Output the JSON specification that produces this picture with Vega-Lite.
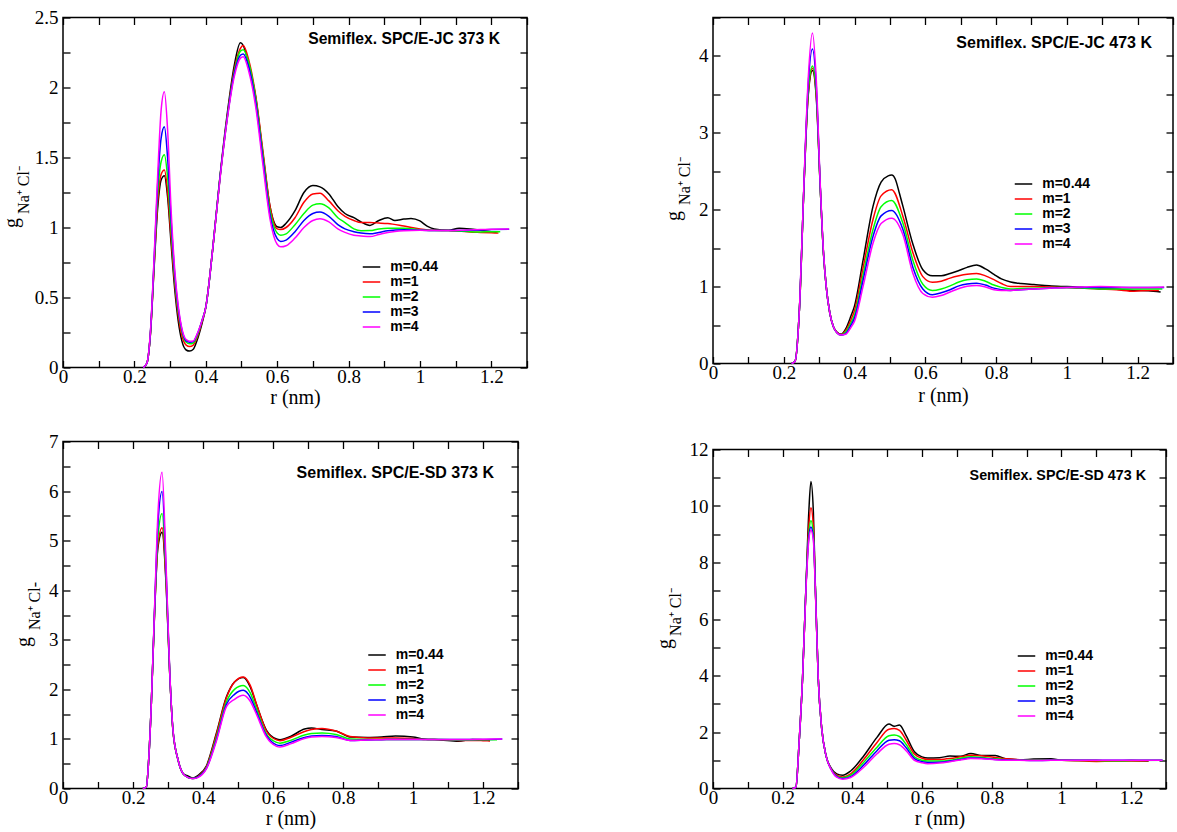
{
  "$schema": "https://vega.github.io/schema/vega-lite/v6.json",
  "background": "white",
  "padding": {"left": 0, "top": 7.5, "right": 0, "bottom": 0},
  "spacing": 124,
  "resolve": {"scale": {"x": "independent", "y": "independent"}, "legend": {"color": "independent"}},
  "hconcat": [
    {
      "vconcat": [
        {
          "width": 464, "height": 350,
          "data": {"name": "jc373"},
          "title": {"text": "Semiflex. SPC/E-JC 373 K", "anchor": "end", "frame": "group", "offset": 0, "baseline": "middle", "dx": -27, "dy": 46.5, "fontSize": 15.7},
          "layer": [
            {"mark": {"type": "line", "interpolate": "monotone", "strokeWidth": 1.5},
             "encoding": {
               "x": {"field": "r", "type": "quantitative", "scale": {"domain": [0, 1.3], "nice": false, "zero": false},
                     "axis": {"values": [0,0.1,0.2,0.3,0.4,0.5,0.6,0.7,0.8,0.9,1,1.1,1.2,1.3], "labelExpr": "round(datum.value*10)%2==0 ? format(datum.value,'~g') : ''", "title": "r (nm)", "titleY": 36, "titleBaseline": "alphabetic"}},
               "y": {"field": "g", "type": "quantitative", "scale": {"domain": [0, 2.5], "nice": false, "zero": false},
                     "axis": {"values": [0,0.25,0.5,0.75,1,1.25,1.5,1.75,2,2.25,2.5], "labelExpr": "round(datum.value*4)%2==0 ? format(datum.value,'~g') : ''", "title": "g", "titleX": -41.5, "titleY": 205, "titleAngle": 270, "titleBaseline": "bottom", "titleAlign": "center"}},
               "color": {"field": "m", "type": "nominal", "scale": {"domain": ["m=0.44","m=1","m=2","m=3","m=4"], "range": ["#000000","#ff0000","#00ff00","#0000ff","#ff00ff"]},
                         "legend": {"orient": "none", "legendX": 300.5, "legendY": 241.5, "title": null}}
             }},
            {"mark": {"type": "point", "opacity": 0, "size": 1},
             "encoding": {
               "x": {"field": "r", "type": "quantitative", "scale": {"domain": [0, 1.3], "nice": false, "zero": false}, "axis": {"orient": "top", "values": [0,0.1,0.2,0.3,0.4,0.5,0.6,0.7,0.8,0.9,1,1.1,1.2,1.3], "labels": false, "title": null}},
               "y": {"field": "g", "type": "quantitative", "scale": {"domain": [0, 2.5], "nice": false, "zero": false}, "axis": {"orient": "right", "values": [0,0.25,0.5,0.75,1,1.25,1.5,1.75,2,2.25,2.5], "labels": false, "title": null}}
             }},
            {"mark": {"type": "point", "opacity": 0, "size": 1},
             "encoding": {
               "x": {"field": "r", "type": "quantitative", "scale": {"domain": [0, 1.3], "nice": false, "zero": false}, "axis": null},
               "y": {"field": "g", "type": "quantitative", "scale": {"domain": [0, 2.5], "nice": false, "zero": false}, "axis": {"orient": "left", "ticks": false, "labels": false, "title": "Na⁺ Cl⁻", "titleFontSize": 16, "titleX": -31.5, "titleY": 172, "titleAngle": 270, "titleBaseline": "bottom", "titleAlign": "center"}}
             }}
          ],
          "resolve": {"axis": {"x": "independent", "y": "independent"}}
        },
        {
          "width": 455, "height": 347,
          "data": {"name": "sd373"},
          "title": {"text": "Semiflex. SPC/E-SD 373 K", "anchor": "end", "frame": "group", "offset": 0, "baseline": "middle", "dx": -24, "dy": 56.5, "fontSize": 16},
          "layer": [
            {"mark": {"type": "line", "interpolate": "monotone", "strokeWidth": 1.5},
             "encoding": {
               "x": {"field": "r", "type": "quantitative", "scale": {"domain": [0, 1.3], "nice": false, "zero": false},
                     "axis": {"values": [0,0.1,0.2,0.3,0.4,0.5,0.6,0.7,0.8,0.9,1,1.1,1.2,1.3], "labelExpr": "round(datum.value*10)%2==0 ? format(datum.value,'~g') : ''", "title": "r (nm)", "titleY": 36, "titleBaseline": "alphabetic"}},
               "y": {"field": "g", "type": "quantitative", "scale": {"domain": [0, 7], "nice": false, "zero": false},
                     "axis": {"values": [0,0.5,1,1.5,2,2.5,3,3.5,4,4.5,5,5.5,6,6.5,7], "labelExpr": "round(datum.value*2)%2==0 ? format(datum.value,'~g') : ''", "title": "g", "titleX": -30, "titleY": 200, "titleAngle": 270, "titleBaseline": "bottom", "titleAlign": "center"}},
               "color": {"field": "m", "type": "nominal", "scale": {"domain": ["m=0.44","m=1","m=2","m=3","m=4"], "range": ["#000000","#ff0000","#00ff00","#0000ff","#ff00ff"]},
                         "legend": {"orient": "none", "legendX": 306, "legendY": 205.5, "title": null}}
             }},
            {"mark": {"type": "point", "opacity": 0, "size": 1},
             "encoding": {
               "x": {"field": "r", "type": "quantitative", "scale": {"domain": [0, 1.3], "nice": false, "zero": false}, "axis": {"orient": "top", "values": [0,0.1,0.2,0.3,0.4,0.5,0.6,0.7,0.8,0.9,1,1.1,1.2,1.3], "labels": false, "title": null}},
               "y": {"field": "g", "type": "quantitative", "scale": {"domain": [0, 7], "nice": false, "zero": false}, "axis": {"orient": "right", "values": [0,0.5,1,1.5,2,2.5,3,3.5,4,4.5,5,5.5,6,6.5,7], "labels": false, "title": null}}
             }},
            {"mark": {"type": "point", "opacity": 0, "size": 1},
             "encoding": {
               "x": {"field": "r", "type": "quantitative", "scale": {"domain": [0, 1.3], "nice": false, "zero": false}, "axis": null},
               "y": {"field": "g", "type": "quantitative", "scale": {"domain": [0, 7], "nice": false, "zero": false}, "axis": {"orient": "left", "ticks": false, "labels": false, "title": "Na⁺ Cl-", "titleFontSize": 16, "titleX": -20.5, "titleY": 164, "titleAngle": 270, "titleBaseline": "bottom", "titleAlign": "center"}}
             }}
          ],
          "resolve": {"axis": {"x": "independent", "y": "independent"}}
        }
      ],
      "spacing": 74,
      "bounds": "flush",
      "resolve": {"scale": {"x": "independent", "y": "independent"}, "legend": {"color": "independent"}}
    },
    {
      "vconcat": [
        {
          "width": 460, "height": 346,
          "data": {"name": "jc473"},
          "title": {"text": "Semiflex. SPC/E-JC 473 K", "anchor": "end", "frame": "group", "offset": 0, "baseline": "middle", "dx": -21, "dy": 50, "fontSize": 16},
          "layer": [
            {"mark": {"type": "line", "interpolate": "monotone", "strokeWidth": 1.5},
             "encoding": {
               "x": {"field": "r", "type": "quantitative", "scale": {"domain": [0, 1.3], "nice": false, "zero": false},
                     "axis": {"values": [0,0.1,0.2,0.3,0.4,0.5,0.6,0.7,0.8,0.9,1,1.1,1.2,1.3], "labelExpr": "round(datum.value*10)%2==0 ? format(datum.value,'~g') : ''", "title": "r (nm)", "titleY": 38, "titleBaseline": "alphabetic"}},
               "y": {"field": "g", "type": "quantitative", "scale": {"domain": [0, 4.5], "nice": false, "zero": false},
                     "axis": {"values": [0,0.5,1,1.5,2,2.5,3,3.5,4,4.5], "labelExpr": "round(datum.value*2)%2==0 ? format(datum.value,'~g') : ''", "title": "g", "titleX": -30, "titleY": 198, "titleAngle": 270, "titleBaseline": "bottom", "titleAlign": "center"}},
               "color": {"field": "m", "type": "nominal", "scale": {"domain": ["m=0.44","m=1","m=2","m=3","m=4"], "range": ["#000000","#ff0000","#00ff00","#0000ff","#ff00ff"]},
                         "legend": {"orient": "none", "legendX": 302.5, "legendY": 158.5, "title": null}}
             }},
            {"mark": {"type": "point", "opacity": 0, "size": 1},
             "encoding": {
               "x": {"field": "r", "type": "quantitative", "scale": {"domain": [0, 1.3], "nice": false, "zero": false}, "axis": {"orient": "top", "values": [0,0.1,0.2,0.3,0.4,0.5,0.6,0.7,0.8,0.9,1,1.1,1.2,1.3], "labels": false, "title": null}},
               "y": {"field": "g", "type": "quantitative", "scale": {"domain": [0, 4.5], "nice": false, "zero": false}, "axis": {"orient": "right", "values": [0,0.5,1,1.5,2,2.5,3,3.5,4,4.5], "labels": false, "title": null}}
             }},
            {"mark": {"type": "point", "opacity": 0, "size": 1},
             "encoding": {
               "x": {"field": "r", "type": "quantitative", "scale": {"domain": [0, 1.3], "nice": false, "zero": false}, "axis": null},
               "y": {"field": "g", "type": "quantitative", "scale": {"domain": [0, 4.5], "nice": false, "zero": false}, "axis": {"orient": "left", "ticks": false, "labels": false, "title": "Na⁺ Cl⁻", "titleFontSize": 16, "titleX": -20.5, "titleY": 163, "titleAngle": 270, "titleBaseline": "bottom", "titleAlign": "center"}}
             }}
          ],
          "resolve": {"axis": {"x": "independent", "y": "independent"}}
        },
        {
          "width": 453, "height": 339,
          "data": {"name": "sd473"},
          "title": {"text": "Semiflex. SPC/E-SD 473 K", "anchor": "end", "frame": "group", "offset": 0, "baseline": "middle", "dx": -20, "dy": 49.5, "fontSize": 14.3},
          "layer": [
            {"mark": {"type": "line", "interpolate": "monotone", "strokeWidth": 1.5},
             "encoding": {
               "x": {"field": "r", "type": "quantitative", "scale": {"domain": [0, 1.3], "nice": false, "zero": false},
                     "axis": {"values": [0,0.1,0.2,0.3,0.4,0.5,0.6,0.7,0.8,0.9,1,1.1,1.2,1.3], "labelExpr": "round(datum.value*10)%2==0 ? format(datum.value,'~g') : ''", "title": "r (nm)", "titleY": 36, "titleBaseline": "alphabetic"}},
               "y": {"field": "g", "type": "quantitative", "scale": {"domain": [0, 12], "nice": false, "zero": false},
                     "axis": {"values": [0,1,2,3,4,5,6,7,8,9,10,11,12], "labelExpr": "round(datum.value)%2==0 ? format(datum.value,'~g') : ''", "title": "g", "titleX": -39, "titleY": 194, "titleAngle": 270, "titleBaseline": "bottom", "titleAlign": "center"}},
               "color": {"field": "m", "type": "nominal", "scale": {"domain": ["m=0.44","m=1","m=2","m=3","m=4"], "range": ["#000000","#ff0000","#00ff00","#0000ff","#ff00ff"]},
                         "legend": {"orient": "none", "legendX": 305.5, "legendY": 198.5, "title": null}}
             }},
            {"mark": {"type": "point", "opacity": 0, "size": 1},
             "encoding": {
               "x": {"field": "r", "type": "quantitative", "scale": {"domain": [0, 1.3], "nice": false, "zero": false}, "axis": {"orient": "top", "values": [0,0.1,0.2,0.3,0.4,0.5,0.6,0.7,0.8,0.9,1,1.1,1.2,1.3], "labels": false, "title": null}},
               "y": {"field": "g", "type": "quantitative", "scale": {"domain": [0, 12], "nice": false, "zero": false}, "axis": {"orient": "right", "values": [0,1,2,3,4,5,6,7,8,9,10,11,12], "labels": false, "title": null}}
             }},
            {"mark": {"type": "point", "opacity": 0, "size": 1},
             "encoding": {
               "x": {"field": "r", "type": "quantitative", "scale": {"domain": [0, 1.3], "nice": false, "zero": false}, "axis": null},
               "y": {"field": "g", "type": "quantitative", "scale": {"domain": [0, 12], "nice": false, "zero": false}, "axis": {"orient": "left", "ticks": false, "labels": false, "title": "Na⁺ Cl⁻", "titleFontSize": 16, "titleX": -30, "titleY": 162, "titleAngle": 270, "titleBaseline": "bottom", "titleAlign": "center"}}
             }}
          ],
          "resolve": {"axis": {"x": "independent", "y": "independent"}}
        }
      ],
      "spacing": 86,
      "bounds": "flush",
      "resolve": {"scale": {"x": "independent", "y": "independent"}, "legend": {"color": "independent"}}
    }
  ],
  "datasets": {
    "jc373": [
      {"m":"m=0.44","r":0.225,"g":0},{"m":"m=0.44","r":0.235,"g":0.03},{"m":"m=0.44","r":0.245,"g":0.24},{"m":"m=0.44","r":0.255,"g":0.7},{"m":"m=0.44","r":0.265,"g":1.13},{"m":"m=0.44","r":0.275,"g":1.34},{"m":"m=0.44","r":0.284,"g":1.37},{"m":"m=0.44","r":0.293,"g":1.22},{"m":"m=0.44","r":0.303,"g":0.88},{"m":"m=0.44","r":0.313,"g":0.56},{"m":"m=0.44","r":0.323,"g":0.33},{"m":"m=0.44","r":0.333,"g":0.19},{"m":"m=0.44","r":0.345,"g":0.125},{"m":"m=0.44","r":0.355,"g":0.117},{"m":"m=0.44","r":0.365,"g":0.13},{"m":"m=0.44","r":0.375,"g":0.19},{"m":"m=0.44","r":0.39,"g":0.32},{"m":"m=0.44","r":0.4,"g":0.43},{"m":"m=0.44","r":0.42,"g":0.86},{"m":"m=0.44","r":0.44,"g":1.37},{"m":"m=0.44","r":0.46,"g":1.81},{"m":"m=0.44","r":0.48,"g":2.16},{"m":"m=0.44","r":0.497,"g":2.32},{"m":"m=0.44","r":0.505,"g":2.3},{"m":"m=0.44","r":0.52,"g":2.17},{"m":"m=0.44","r":0.54,"g":1.93},{"m":"m=0.44","r":0.56,"g":1.53},{"m":"m=0.44","r":0.58,"g":1.15},{"m":"m=0.44","r":0.6,"g":1.005},{"m":"m=0.44","r":0.61,"g":1.0},{"m":"m=0.44","r":0.625,"g":1.03},{"m":"m=0.44","r":0.65,"g":1.12},{"m":"m=0.44","r":0.675,"g":1.25},{"m":"m=0.44","r":0.7,"g":1.3},{"m":"m=0.44","r":0.72,"g":1.29},{"m":"m=0.44","r":0.745,"g":1.24},{"m":"m=0.44","r":0.77,"g":1.15},{"m":"m=0.44","r":0.79,"g":1.1},{"m":"m=0.44","r":0.815,"g":1.07},{"m":"m=0.44","r":0.835,"g":1.04},{"m":"m=0.44","r":0.86,"g":1.015},{"m":"m=0.44","r":0.885,"g":1.05},{"m":"m=0.44","r":0.91,"g":1.07},{"m":"m=0.44","r":0.93,"g":1.05},{"m":"m=0.44","r":0.955,"g":1.06},{"m":"m=0.44","r":0.975,"g":1.065},{"m":"m=0.44","r":1.0,"g":1.047},{"m":"m=0.44","r":1.02,"g":1.01},{"m":"m=0.44","r":1.04,"g":0.99},{"m":"m=0.44","r":1.08,"g":0.98},{"m":"m=0.44","r":1.11,"g":0.995},{"m":"m=0.44","r":1.14,"g":0.99},{"m":"m=0.44","r":1.17,"g":0.98},{"m":"m=0.44","r":1.2,"g":0.97},{"m":"m=0.44","r":1.215,"g":0.965},
      {"m":"m=1","r":0.225,"g":0},{"m":"m=1","r":0.235,"g":0.03},{"m":"m=1","r":0.245,"g":0.24},{"m":"m=1","r":0.255,"g":0.71},{"m":"m=1","r":0.265,"g":1.17},{"m":"m=1","r":0.275,"g":1.38},{"m":"m=1","r":0.284,"g":1.41},{"m":"m=1","r":0.293,"g":1.26},{"m":"m=1","r":0.303,"g":0.92},{"m":"m=1","r":0.313,"g":0.6},{"m":"m=1","r":0.323,"g":0.37},{"m":"m=1","r":0.333,"g":0.23},{"m":"m=1","r":0.345,"g":0.16},{"m":"m=1","r":0.355,"g":0.15},{"m":"m=1","r":0.365,"g":0.16},{"m":"m=1","r":0.375,"g":0.21},{"m":"m=1","r":0.39,"g":0.33},{"m":"m=1","r":0.4,"g":0.43},{"m":"m=1","r":0.42,"g":0.86},{"m":"m=1","r":0.44,"g":1.36},{"m":"m=1","r":0.46,"g":1.79},{"m":"m=1","r":0.48,"g":2.13},{"m":"m=1","r":0.497,"g":2.28},{"m":"m=1","r":0.505,"g":2.3},{"m":"m=1","r":0.52,"g":2.2},{"m":"m=1","r":0.54,"g":1.94},{"m":"m=1","r":0.56,"g":1.55},{"m":"m=1","r":0.58,"g":1.15},{"m":"m=1","r":0.6,"g":0.99},{"m":"m=1","r":0.61,"g":0.985},{"m":"m=1","r":0.625,"g":1.0},{"m":"m=1","r":0.65,"g":1.07},{"m":"m=1","r":0.675,"g":1.18},{"m":"m=1","r":0.7,"g":1.24},{"m":"m=1","r":0.72,"g":1.245},{"m":"m=1","r":0.745,"g":1.19},{"m":"m=1","r":0.77,"g":1.12},{"m":"m=1","r":0.79,"g":1.08},{"m":"m=1","r":0.815,"g":1.05},{"m":"m=1","r":0.835,"g":1.035},{"m":"m=1","r":0.86,"g":1.035},{"m":"m=1","r":0.885,"g":1.032},{"m":"m=1","r":0.91,"g":1.028},{"m":"m=1","r":0.955,"g":1.01},{"m":"m=1","r":1.0,"g":0.99},{"m":"m=1","r":1.04,"g":0.98},{"m":"m=1","r":1.08,"g":0.978},{"m":"m=1","r":1.11,"g":0.975},{"m":"m=1","r":1.14,"g":0.968},{"m":"m=1","r":1.17,"g":0.965},{"m":"m=1","r":1.2,"g":0.962},{"m":"m=1","r":1.22,"g":0.96},
      {"m":"m=2","r":0.225,"g":0},{"m":"m=2","r":0.235,"g":0.03},{"m":"m=2","r":0.245,"g":0.25},{"m":"m=2","r":0.255,"g":0.73},{"m":"m=2","r":0.265,"g":1.23},{"m":"m=2","r":0.275,"g":1.47},{"m":"m=2","r":0.284,"g":1.52},{"m":"m=2","r":0.293,"g":1.36},{"m":"m=2","r":0.303,"g":0.98},{"m":"m=2","r":0.313,"g":0.64},{"m":"m=2","r":0.323,"g":0.4},{"m":"m=2","r":0.333,"g":0.26},{"m":"m=2","r":0.345,"g":0.18},{"m":"m=2","r":0.355,"g":0.169},{"m":"m=2","r":0.365,"g":0.175},{"m":"m=2","r":0.375,"g":0.22},{"m":"m=2","r":0.39,"g":0.34},{"m":"m=2","r":0.4,"g":0.43},{"m":"m=2","r":0.42,"g":0.86},{"m":"m=2","r":0.44,"g":1.36},{"m":"m=2","r":0.46,"g":1.78},{"m":"m=2","r":0.48,"g":2.11},{"m":"m=2","r":0.497,"g":2.26},{"m":"m=2","r":0.505,"g":2.27},{"m":"m=2","r":0.52,"g":2.18},{"m":"m=2","r":0.54,"g":1.92},{"m":"m=2","r":0.56,"g":1.52},{"m":"m=2","r":0.58,"g":1.12},{"m":"m=2","r":0.6,"g":0.96},{"m":"m=2","r":0.61,"g":0.945},{"m":"m=2","r":0.625,"g":0.955},{"m":"m=2","r":0.65,"g":1.02},{"m":"m=2","r":0.675,"g":1.1},{"m":"m=2","r":0.7,"g":1.16},{"m":"m=2","r":0.72,"g":1.17},{"m":"m=2","r":0.745,"g":1.14},{"m":"m=2","r":0.77,"g":1.07},{"m":"m=2","r":0.79,"g":1.035},{"m":"m=2","r":0.815,"g":0.99},{"m":"m=2","r":0.835,"g":0.977},{"m":"m=2","r":0.86,"g":0.978},{"m":"m=2","r":0.885,"g":0.99},{"m":"m=2","r":0.91,"g":0.995},{"m":"m=2","r":0.955,"g":0.995},{"m":"m=2","r":1.0,"g":0.984},{"m":"m=2","r":1.04,"g":0.978},{"m":"m=2","r":1.08,"g":0.978},{"m":"m=2","r":1.11,"g":0.975},{"m":"m=2","r":1.14,"g":0.97},{"m":"m=2","r":1.17,"g":0.968},{"m":"m=2","r":1.2,"g":0.97},{"m":"m=2","r":1.225,"g":0.97},
      {"m":"m=3","r":0.225,"g":0},{"m":"m=3","r":0.235,"g":0.03},{"m":"m=3","r":0.245,"g":0.25},{"m":"m=3","r":0.255,"g":0.75},{"m":"m=3","r":0.265,"g":1.3},{"m":"m=3","r":0.275,"g":1.64},{"m":"m=3","r":0.284,"g":1.72},{"m":"m=3","r":0.293,"g":1.5},{"m":"m=3","r":0.303,"g":1.05},{"m":"m=3","r":0.313,"g":0.67},{"m":"m=3","r":0.323,"g":0.42},{"m":"m=3","r":0.333,"g":0.27},{"m":"m=3","r":0.345,"g":0.19},{"m":"m=3","r":0.355,"g":0.181},{"m":"m=3","r":0.365,"g":0.185},{"m":"m=3","r":0.375,"g":0.23},{"m":"m=3","r":0.39,"g":0.34},{"m":"m=3","r":0.4,"g":0.43},{"m":"m=3","r":0.42,"g":0.86},{"m":"m=3","r":0.44,"g":1.36},{"m":"m=3","r":0.46,"g":1.78},{"m":"m=3","r":0.48,"g":2.1},{"m":"m=3","r":0.497,"g":2.23},{"m":"m=3","r":0.505,"g":2.24},{"m":"m=3","r":0.52,"g":2.15},{"m":"m=3","r":0.54,"g":1.89},{"m":"m=3","r":0.56,"g":1.49},{"m":"m=3","r":0.58,"g":1.09},{"m":"m=3","r":0.6,"g":0.92},{"m":"m=3","r":0.61,"g":0.9},{"m":"m=3","r":0.625,"g":0.91},{"m":"m=3","r":0.65,"g":0.97},{"m":"m=3","r":0.675,"g":1.05},{"m":"m=3","r":0.7,"g":1.1},{"m":"m=3","r":0.72,"g":1.11},{"m":"m=3","r":0.745,"g":1.08},{"m":"m=3","r":0.77,"g":1.02},{"m":"m=3","r":0.79,"g":0.99},{"m":"m=3","r":0.815,"g":0.97},{"m":"m=3","r":0.835,"g":0.96},{"m":"m=3","r":0.86,"g":0.955},{"m":"m=3","r":0.885,"g":0.965},{"m":"m=3","r":0.91,"g":0.977},{"m":"m=3","r":0.955,"g":0.984},{"m":"m=3","r":1.0,"g":0.98},{"m":"m=3","r":1.04,"g":0.978},{"m":"m=3","r":1.08,"g":0.978},{"m":"m=3","r":1.11,"g":0.978},{"m":"m=3","r":1.14,"g":0.98},{"m":"m=3","r":1.17,"g":0.983},{"m":"m=3","r":1.2,"g":0.985},{"m":"m=3","r":1.25,"g":0.988},
      {"m":"m=4","r":0.225,"g":0},{"m":"m=4","r":0.235,"g":0.03},{"m":"m=4","r":0.245,"g":0.26},{"m":"m=4","r":0.255,"g":0.77},{"m":"m=4","r":0.265,"g":1.36},{"m":"m=4","r":0.275,"g":1.84},{"m":"m=4","r":0.284,"g":1.97},{"m":"m=4","r":0.293,"g":1.7},{"m":"m=4","r":0.303,"g":1.12},{"m":"m=4","r":0.313,"g":0.7},{"m":"m=4","r":0.323,"g":0.44},{"m":"m=4","r":0.333,"g":0.28},{"m":"m=4","r":0.345,"g":0.2},{"m":"m=4","r":0.355,"g":0.188},{"m":"m=4","r":0.365,"g":0.19},{"m":"m=4","r":0.375,"g":0.235},{"m":"m=4","r":0.39,"g":0.34},{"m":"m=4","r":0.4,"g":0.43},{"m":"m=4","r":0.42,"g":0.86},{"m":"m=4","r":0.44,"g":1.35},{"m":"m=4","r":0.46,"g":1.77},{"m":"m=4","r":0.48,"g":2.08},{"m":"m=4","r":0.497,"g":2.21},{"m":"m=4","r":0.505,"g":2.22},{"m":"m=4","r":0.52,"g":2.12},{"m":"m=4","r":0.54,"g":1.86},{"m":"m=4","r":0.56,"g":1.45},{"m":"m=4","r":0.58,"g":1.06},{"m":"m=4","r":0.6,"g":0.88},{"m":"m=4","r":0.61,"g":0.862},{"m":"m=4","r":0.625,"g":0.87},{"m":"m=4","r":0.65,"g":0.925},{"m":"m=4","r":0.675,"g":1.0},{"m":"m=4","r":0.7,"g":1.05},{"m":"m=4","r":0.72,"g":1.063},{"m":"m=4","r":0.745,"g":1.04},{"m":"m=4","r":0.77,"g":0.99},{"m":"m=4","r":0.79,"g":0.965},{"m":"m=4","r":0.815,"g":0.945},{"m":"m=4","r":0.835,"g":0.94},{"m":"m=4","r":0.86,"g":0.935},{"m":"m=4","r":0.885,"g":0.95},{"m":"m=4","r":0.91,"g":0.965},{"m":"m=4","r":0.955,"g":0.977},{"m":"m=4","r":1.0,"g":0.98},{"m":"m=4","r":1.04,"g":0.978},{"m":"m=4","r":1.08,"g":0.978},{"m":"m=4","r":1.11,"g":0.98},{"m":"m=4","r":1.14,"g":0.982},{"m":"m=4","r":1.17,"g":0.985},{"m":"m=4","r":1.2,"g":0.987},{"m":"m=4","r":1.25,"g":0.99}
    ],
    "jc473": [
      {"m":"m=0.44","r":0.222,"g":0},{"m":"m=0.44","r":0.232,"g":0.03},{"m":"m=0.44","r":0.245,"g":0.78},{"m":"m=0.44","r":0.257,"g":2.3},{"m":"m=0.44","r":0.269,"g":3.48},{"m":"m=0.44","r":0.281,"g":3.81},{"m":"m=0.44","r":0.292,"g":3.45},{"m":"m=0.44","r":0.303,"g":2.3},{"m":"m=0.44","r":0.312,"g":1.45},{"m":"m=0.44","r":0.32,"g":1.0},{"m":"m=0.44","r":0.33,"g":0.66},{"m":"m=0.44","r":0.34,"g":0.48},{"m":"m=0.44","r":0.35,"g":0.41},{"m":"m=0.44","r":0.362,"g":0.38},{"m":"m=0.44","r":0.375,"g":0.45},{"m":"m=0.44","r":0.39,"g":0.62},{"m":"m=0.44","r":0.4,"g":0.75},{"m":"m=0.44","r":0.424,"g":1.34},{"m":"m=0.44","r":0.452,"g":2.04},{"m":"m=0.44","r":0.475,"g":2.36},{"m":"m=0.44","r":0.495,"g":2.44},{"m":"m=0.44","r":0.505,"g":2.45},{"m":"m=0.44","r":0.515,"g":2.4},{"m":"m=0.44","r":0.527,"g":2.21},{"m":"m=0.44","r":0.537,"g":2.04},{"m":"m=0.44","r":0.565,"g":1.55},{"m":"m=0.44","r":0.593,"g":1.22},{"m":"m=0.44","r":0.62,"g":1.14},{"m":"m=0.44","r":0.645,"g":1.14},{"m":"m=0.44","r":0.67,"g":1.17},{"m":"m=0.44","r":0.695,"g":1.21},{"m":"m=0.44","r":0.718,"g":1.25},{"m":"m=0.44","r":0.745,"g":1.28},{"m":"m=0.44","r":0.77,"g":1.23},{"m":"m=0.44","r":0.794,"g":1.16},{"m":"m=0.44","r":0.815,"g":1.1},{"m":"m=0.44","r":0.841,"g":1.06},{"m":"m=0.44","r":0.87,"g":1.04},{"m":"m=0.44","r":0.907,"g":1.026},{"m":"m=0.44","r":0.95,"g":1.01},{"m":"m=0.44","r":1.0,"g":1.0},{"m":"m=0.44","r":1.05,"g":0.99},{"m":"m=0.44","r":1.095,"g":0.97},{"m":"m=0.44","r":1.14,"g":0.965},{"m":"m=0.44","r":1.19,"g":0.95},{"m":"m=0.44","r":1.23,"g":0.945},{"m":"m=0.44","r":1.265,"g":0.93},
      {"m":"m=1","r":0.222,"g":0},{"m":"m=1","r":0.232,"g":0.03},{"m":"m=1","r":0.245,"g":0.78},{"m":"m=1","r":0.257,"g":2.3},{"m":"m=1","r":0.269,"g":3.5},{"m":"m=1","r":0.281,"g":3.84},{"m":"m=1","r":0.292,"g":3.48},{"m":"m=1","r":0.303,"g":2.3},{"m":"m=1","r":0.312,"g":1.45},{"m":"m=1","r":0.32,"g":1.0},{"m":"m=1","r":0.33,"g":0.66},{"m":"m=1","r":0.34,"g":0.48},{"m":"m=1","r":0.35,"g":0.405},{"m":"m=1","r":0.362,"g":0.375},{"m":"m=1","r":0.375,"g":0.43},{"m":"m=1","r":0.39,"g":0.57},{"m":"m=1","r":0.4,"g":0.69},{"m":"m=1","r":0.424,"g":1.24},{"m":"m=1","r":0.452,"g":1.87},{"m":"m=1","r":0.475,"g":2.18},{"m":"m=1","r":0.505,"g":2.26},{"m":"m=1","r":0.537,"g":1.91},{"m":"m=1","r":0.565,"g":1.44},{"m":"m=1","r":0.593,"g":1.13},{"m":"m=1","r":0.62,"g":1.056},{"m":"m=1","r":0.645,"g":1.07},{"m":"m=1","r":0.67,"g":1.11},{"m":"m=1","r":0.695,"g":1.14},{"m":"m=1","r":0.718,"g":1.16},{"m":"m=1","r":0.745,"g":1.17},{"m":"m=1","r":0.77,"g":1.14},{"m":"m=1","r":0.794,"g":1.09},{"m":"m=1","r":0.815,"g":1.04},{"m":"m=1","r":0.841,"g":1.0},{"m":"m=1","r":0.87,"g":1.0},{"m":"m=1","r":0.907,"g":1.0},{"m":"m=1","r":0.95,"g":0.995},{"m":"m=1","r":1.0,"g":0.99},{"m":"m=1","r":1.05,"g":0.98},{"m":"m=1","r":1.095,"g":0.97},{"m":"m=1","r":1.14,"g":0.96},{"m":"m=1","r":1.19,"g":0.94},{"m":"m=1","r":1.23,"g":0.95},{"m":"m=1","r":1.26,"g":0.95},
      {"m":"m=2","r":0.222,"g":0},{"m":"m=2","r":0.232,"g":0.03},{"m":"m=2","r":0.245,"g":0.78},{"m":"m=2","r":0.257,"g":2.3},{"m":"m=2","r":0.269,"g":3.54},{"m":"m=2","r":0.281,"g":3.87},{"m":"m=2","r":0.292,"g":3.52},{"m":"m=2","r":0.303,"g":2.3},{"m":"m=2","r":0.312,"g":1.45},{"m":"m=2","r":0.32,"g":1.0},{"m":"m=2","r":0.33,"g":0.66},{"m":"m=2","r":0.34,"g":0.48},{"m":"m=2","r":0.35,"g":0.4},{"m":"m=2","r":0.362,"g":0.372},{"m":"m=2","r":0.375,"g":0.41},{"m":"m=2","r":0.39,"g":0.53},{"m":"m=2","r":0.4,"g":0.63},{"m":"m=2","r":0.424,"g":1.15},{"m":"m=2","r":0.452,"g":1.74},{"m":"m=2","r":0.475,"g":2.04},{"m":"m=2","r":0.505,"g":2.12},{"m":"m=2","r":0.537,"g":1.82},{"m":"m=2","r":0.565,"g":1.34},{"m":"m=2","r":0.593,"g":1.03},{"m":"m=2","r":0.62,"g":0.95},{"m":"m=2","r":0.645,"g":0.97},{"m":"m=2","r":0.67,"g":1.01},{"m":"m=2","r":0.695,"g":1.06},{"m":"m=2","r":0.718,"g":1.09},{"m":"m=2","r":0.745,"g":1.1},{"m":"m=2","r":0.77,"g":1.07},{"m":"m=2","r":0.794,"g":1.02},{"m":"m=2","r":0.815,"g":0.99},{"m":"m=2","r":0.841,"g":0.97},{"m":"m=2","r":0.87,"g":0.975},{"m":"m=2","r":0.907,"g":0.98},{"m":"m=2","r":0.95,"g":0.985},{"m":"m=2","r":1.0,"g":0.99},{"m":"m=2","r":1.05,"g":0.98},{"m":"m=2","r":1.095,"g":0.97},{"m":"m=2","r":1.14,"g":0.97},{"m":"m=2","r":1.19,"g":0.97},{"m":"m=2","r":1.23,"g":0.97},{"m":"m=2","r":1.27,"g":0.97},
      {"m":"m=3","r":0.222,"g":0},{"m":"m=3","r":0.232,"g":0.03},{"m":"m=3","r":0.245,"g":0.78},{"m":"m=3","r":0.257,"g":2.32},{"m":"m=3","r":0.269,"g":3.62},{"m":"m=3","r":0.281,"g":4.09},{"m":"m=3","r":0.292,"g":3.6},{"m":"m=3","r":0.303,"g":2.32},{"m":"m=3","r":0.312,"g":1.46},{"m":"m=3","r":0.32,"g":1.0},{"m":"m=3","r":0.33,"g":0.66},{"m":"m=3","r":0.34,"g":0.48},{"m":"m=3","r":0.35,"g":0.4},{"m":"m=3","r":0.362,"g":0.37},{"m":"m=3","r":0.375,"g":0.39},{"m":"m=3","r":0.39,"g":0.5},{"m":"m=3","r":0.4,"g":0.59},{"m":"m=3","r":0.424,"g":1.08},{"m":"m=3","r":0.452,"g":1.65},{"m":"m=3","r":0.475,"g":1.92},{"m":"m=3","r":0.505,"g":1.99},{"m":"m=3","r":0.537,"g":1.74},{"m":"m=3","r":0.565,"g":1.25},{"m":"m=3","r":0.593,"g":0.97},{"m":"m=3","r":0.62,"g":0.895},{"m":"m=3","r":0.645,"g":0.92},{"m":"m=3","r":0.67,"g":0.96},{"m":"m=3","r":0.695,"g":1.01},{"m":"m=3","r":0.718,"g":1.035},{"m":"m=3","r":0.745,"g":1.045},{"m":"m=3","r":0.77,"g":1.02},{"m":"m=3","r":0.794,"g":0.98},{"m":"m=3","r":0.815,"g":0.96},{"m":"m=3","r":0.841,"g":0.95},{"m":"m=3","r":0.87,"g":0.96},{"m":"m=3","r":0.907,"g":0.97},{"m":"m=3","r":0.95,"g":0.98},{"m":"m=3","r":1.0,"g":0.99},{"m":"m=3","r":1.05,"g":0.99},{"m":"m=3","r":1.095,"g":0.99},{"m":"m=3","r":1.14,"g":0.99},{"m":"m=3","r":1.19,"g":0.99},{"m":"m=3","r":1.23,"g":0.99},{"m":"m=3","r":1.275,"g":0.99},
      {"m":"m=4","r":0.222,"g":0},{"m":"m=4","r":0.232,"g":0.03},{"m":"m=4","r":0.245,"g":0.78},{"m":"m=4","r":0.257,"g":2.34},{"m":"m=4","r":0.269,"g":3.7},{"m":"m=4","r":0.281,"g":4.3},{"m":"m=4","r":0.292,"g":3.68},{"m":"m=4","r":0.303,"g":2.34},{"m":"m=4","r":0.312,"g":1.47},{"m":"m=4","r":0.32,"g":1.0},{"m":"m=4","r":0.33,"g":0.66},{"m":"m=4","r":0.34,"g":0.48},{"m":"m=4","r":0.35,"g":0.4},{"m":"m=4","r":0.362,"g":0.37},{"m":"m=4","r":0.375,"g":0.38},{"m":"m=4","r":0.39,"g":0.47},{"m":"m=4","r":0.4,"g":0.55},{"m":"m=4","r":0.424,"g":1.0},{"m":"m=4","r":0.452,"g":1.56},{"m":"m=4","r":0.475,"g":1.82},{"m":"m=4","r":0.505,"g":1.89},{"m":"m=4","r":0.537,"g":1.67},{"m":"m=4","r":0.565,"g":1.17},{"m":"m=4","r":0.593,"g":0.91},{"m":"m=4","r":0.62,"g":0.862},{"m":"m=4","r":0.645,"g":0.885},{"m":"m=4","r":0.67,"g":0.93},{"m":"m=4","r":0.695,"g":0.975},{"m":"m=4","r":0.718,"g":1.005},{"m":"m=4","r":0.745,"g":1.015},{"m":"m=4","r":0.77,"g":0.995},{"m":"m=4","r":0.794,"g":0.96},{"m":"m=4","r":0.815,"g":0.95},{"m":"m=4","r":0.841,"g":0.95},{"m":"m=4","r":0.87,"g":0.96},{"m":"m=4","r":0.907,"g":0.97},{"m":"m=4","r":0.95,"g":0.98},{"m":"m=4","r":1.0,"g":0.99},{"m":"m=4","r":1.05,"g":0.995},{"m":"m=4","r":1.095,"g":1.0},{"m":"m=4","r":1.14,"g":0.995},{"m":"m=4","r":1.19,"g":0.99},{"m":"m=4","r":1.23,"g":0.99},{"m":"m=4","r":1.275,"g":0.995}
    ],
    "sd373": [
      {"m":"m=0.44","r":0.228,"g":0},{"m":"m=0.44","r":0.238,"g":0.03},{"m":"m=0.44","r":0.245,"g":0.6},{"m":"m=0.44","r":0.252,"g":1.65},{"m":"m=0.44","r":0.262,"g":3.6},{"m":"m=0.44","r":0.271,"g":4.85},{"m":"m=0.44","r":0.283,"g":5.17},{"m":"m=0.44","r":0.295,"g":4.05},{"m":"m=0.44","r":0.305,"g":2.3},{"m":"m=0.44","r":0.314,"g":1.18},{"m":"m=0.44","r":0.329,"g":0.57},{"m":"m=0.44","r":0.343,"g":0.3},{"m":"m=0.44","r":0.358,"g":0.25},{"m":"m=0.44","r":0.371,"g":0.21},{"m":"m=0.44","r":0.385,"g":0.26},{"m":"m=0.44","r":0.41,"g":0.46},{"m":"m=0.44","r":0.438,"g":1.11},{"m":"m=0.44","r":0.467,"g":1.85},{"m":"m=0.44","r":0.49,"g":2.15},{"m":"m=0.44","r":0.515,"g":2.24},{"m":"m=0.44","r":0.535,"g":2.05},{"m":"m=0.44","r":0.552,"g":1.71},{"m":"m=0.44","r":0.581,"g":1.18},{"m":"m=0.44","r":0.61,"g":1.0},{"m":"m=0.44","r":0.62,"g":0.985},{"m":"m=0.44","r":0.65,"g":1.05},{"m":"m=0.44","r":0.69,"g":1.2},{"m":"m=0.44","r":0.71,"g":1.22},{"m":"m=0.44","r":0.74,"g":1.19},{"m":"m=0.44","r":0.78,"g":1.16},{"m":"m=0.44","r":0.82,"g":1.04},{"m":"m=0.44","r":0.87,"g":1.03},{"m":"m=0.44","r":0.91,"g":1.04},{"m":"m=0.44","r":0.95,"g":1.06},{"m":"m=0.44","r":1.0,"g":1.04},{"m":"m=0.44","r":1.03,"g":1.0},{"m":"m=0.44","r":1.08,"g":0.98},{"m":"m=0.44","r":1.13,"g":0.955},{"m":"m=0.44","r":1.17,"g":0.99},{"m":"m=0.44","r":1.2,"g":0.985},{"m":"m=0.44","r":1.22,"g":0.97},
      {"m":"m=1","r":0.228,"g":0},{"m":"m=1","r":0.238,"g":0.03},{"m":"m=1","r":0.245,"g":0.6},{"m":"m=1","r":0.252,"g":1.65},{"m":"m=1","r":0.262,"g":3.62},{"m":"m=1","r":0.271,"g":4.9},{"m":"m=1","r":0.283,"g":5.26},{"m":"m=1","r":0.295,"g":4.1},{"m":"m=1","r":0.305,"g":2.3},{"m":"m=1","r":0.314,"g":1.18},{"m":"m=1","r":0.329,"g":0.57},{"m":"m=1","r":0.343,"g":0.3},{"m":"m=1","r":0.358,"g":0.22},{"m":"m=1","r":0.371,"g":0.2},{"m":"m=1","r":0.385,"g":0.24},{"m":"m=1","r":0.41,"g":0.44},{"m":"m=1","r":0.438,"g":1.08},{"m":"m=1","r":0.467,"g":1.83},{"m":"m=1","r":0.49,"g":2.15},{"m":"m=1","r":0.515,"g":2.25},{"m":"m=1","r":0.535,"g":2.08},{"m":"m=1","r":0.552,"g":1.72},{"m":"m=1","r":0.581,"g":1.16},{"m":"m=1","r":0.61,"g":0.98},{"m":"m=1","r":0.62,"g":0.965},{"m":"m=1","r":0.65,"g":1.03},{"m":"m=1","r":0.69,"g":1.15},{"m":"m=1","r":0.71,"g":1.19},{"m":"m=1","r":0.74,"g":1.21},{"m":"m=1","r":0.78,"g":1.16},{"m":"m=1","r":0.82,"g":1.05},{"m":"m=1","r":0.87,"g":1.02},{"m":"m=1","r":0.91,"g":1.02},{"m":"m=1","r":0.95,"g":1.02},{"m":"m=1","r":1.0,"g":1.01},{"m":"m=1","r":1.03,"g":0.99},{"m":"m=1","r":1.08,"g":0.985},{"m":"m=1","r":1.13,"g":0.97},{"m":"m=1","r":1.17,"g":0.97},{"m":"m=1","r":1.2,"g":0.965},{"m":"m=1","r":1.22,"g":0.96},
      {"m":"m=2","r":0.228,"g":0},{"m":"m=2","r":0.238,"g":0.03},{"m":"m=2","r":0.245,"g":0.6},{"m":"m=2","r":0.252,"g":1.65},{"m":"m=2","r":0.262,"g":3.64},{"m":"m=2","r":0.271,"g":5.05},{"m":"m=2","r":0.283,"g":5.55},{"m":"m=2","r":0.295,"g":4.2},{"m":"m=2","r":0.305,"g":2.32},{"m":"m=2","r":0.314,"g":1.19},{"m":"m=2","r":0.329,"g":0.57},{"m":"m=2","r":0.343,"g":0.3},{"m":"m=2","r":0.358,"g":0.22},{"m":"m=2","r":0.371,"g":0.2},{"m":"m=2","r":0.385,"g":0.23},{"m":"m=2","r":0.41,"g":0.42},{"m":"m=2","r":0.438,"g":1.02},{"m":"m=2","r":0.467,"g":1.75},{"m":"m=2","r":0.49,"g":2.0},{"m":"m=2","r":0.515,"g":2.08},{"m":"m=2","r":0.535,"g":1.93},{"m":"m=2","r":0.552,"g":1.62},{"m":"m=2","r":0.581,"g":1.1},{"m":"m=2","r":0.61,"g":0.93},{"m":"m=2","r":0.62,"g":0.915},{"m":"m=2","r":0.65,"g":0.97},{"m":"m=2","r":0.69,"g":1.08},{"m":"m=2","r":0.71,"g":1.11},{"m":"m=2","r":0.74,"g":1.12},{"m":"m=2","r":0.78,"g":1.09},{"m":"m=2","r":0.82,"g":1.0},{"m":"m=2","r":0.87,"g":0.99},{"m":"m=2","r":0.91,"g":0.99},{"m":"m=2","r":0.95,"g":0.99},{"m":"m=2","r":1.0,"g":0.99},{"m":"m=2","r":1.03,"g":0.99},{"m":"m=2","r":1.08,"g":0.99},{"m":"m=2","r":1.13,"g":0.98},{"m":"m=2","r":1.17,"g":0.98},{"m":"m=2","r":1.2,"g":0.985},{"m":"m=2","r":1.24,"g":0.985},
      {"m":"m=3","r":0.228,"g":0},{"m":"m=3","r":0.238,"g":0.03},{"m":"m=3","r":0.245,"g":0.6},{"m":"m=3","r":0.252,"g":1.65},{"m":"m=3","r":0.262,"g":3.68},{"m":"m=3","r":0.271,"g":5.3},{"m":"m=3","r":0.283,"g":5.99},{"m":"m=3","r":0.295,"g":4.3},{"m":"m=3","r":0.305,"g":2.33},{"m":"m=3","r":0.314,"g":1.2},{"m":"m=3","r":0.329,"g":0.57},{"m":"m=3","r":0.343,"g":0.3},{"m":"m=3","r":0.358,"g":0.22},{"m":"m=3","r":0.371,"g":0.2},{"m":"m=3","r":0.385,"g":0.23},{"m":"m=3","r":0.41,"g":0.41},{"m":"m=3","r":0.438,"g":0.98},{"m":"m=3","r":0.467,"g":1.7},{"m":"m=3","r":0.49,"g":1.9},{"m":"m=3","r":0.515,"g":1.98},{"m":"m=3","r":0.535,"g":1.84},{"m":"m=3","r":0.552,"g":1.56},{"m":"m=3","r":0.581,"g":1.07},{"m":"m=3","r":0.61,"g":0.88},{"m":"m=3","r":0.62,"g":0.865},{"m":"m=3","r":0.65,"g":0.93},{"m":"m=3","r":0.69,"g":1.03},{"m":"m=3","r":0.71,"g":1.06},{"m":"m=3","r":0.74,"g":1.07},{"m":"m=3","r":0.78,"g":1.05},{"m":"m=3","r":0.82,"g":0.97},{"m":"m=3","r":0.87,"g":0.98},{"m":"m=3","r":0.91,"g":0.985},{"m":"m=3","r":0.95,"g":0.99},{"m":"m=3","r":1.0,"g":0.99},{"m":"m=3","r":1.03,"g":0.99},{"m":"m=3","r":1.08,"g":0.99},{"m":"m=3","r":1.13,"g":0.99},{"m":"m=3","r":1.17,"g":0.99},{"m":"m=3","r":1.2,"g":0.99},{"m":"m=3","r":1.255,"g":1.0},
      {"m":"m=4","r":0.228,"g":0},{"m":"m=4","r":0.238,"g":0.03},{"m":"m=4","r":0.245,"g":0.6},{"m":"m=4","r":0.252,"g":1.65},{"m":"m=4","r":0.262,"g":3.72},{"m":"m=4","r":0.271,"g":5.5},{"m":"m=4","r":0.283,"g":6.38},{"m":"m=4","r":0.295,"g":4.4},{"m":"m=4","r":0.305,"g":2.35},{"m":"m=4","r":0.314,"g":1.2},{"m":"m=4","r":0.329,"g":0.57},{"m":"m=4","r":0.343,"g":0.3},{"m":"m=4","r":0.358,"g":0.22},{"m":"m=4","r":0.371,"g":0.2},{"m":"m=4","r":0.385,"g":0.22},{"m":"m=4","r":0.41,"g":0.4},{"m":"m=4","r":0.438,"g":0.95},{"m":"m=4","r":0.467,"g":1.65},{"m":"m=4","r":0.49,"g":1.8},{"m":"m=4","r":0.515,"g":1.88},{"m":"m=4","r":0.535,"g":1.76},{"m":"m=4","r":0.552,"g":1.51},{"m":"m=4","r":0.581,"g":1.04},{"m":"m=4","r":0.61,"g":0.85},{"m":"m=4","r":0.62,"g":0.835},{"m":"m=4","r":0.65,"g":0.9},{"m":"m=4","r":0.69,"g":1.01},{"m":"m=4","r":0.71,"g":1.04},{"m":"m=4","r":0.74,"g":1.05},{"m":"m=4","r":0.78,"g":1.03},{"m":"m=4","r":0.82,"g":0.97},{"m":"m=4","r":0.87,"g":0.98},{"m":"m=4","r":0.91,"g":0.985},{"m":"m=4","r":0.95,"g":0.99},{"m":"m=4","r":1.0,"g":0.99},{"m":"m=4","r":1.03,"g":0.99},{"m":"m=4","r":1.08,"g":0.99},{"m":"m=4","r":1.13,"g":0.99},{"m":"m=4","r":1.17,"g":0.99},{"m":"m=4","r":1.2,"g":0.995},{"m":"m=4","r":1.255,"g":1.0}
    ],
    "sd473": [
      {"m":"m=0.44","r":0.228,"g":0},{"m":"m=0.44","r":0.238,"g":0.05},{"m":"m=0.44","r":0.247,"g":1.6},{"m":"m=0.44","r":0.257,"g":3.9},{"m":"m=0.44","r":0.267,"g":7.2},{"m":"m=0.44","r":0.275,"g":9.8},{"m":"m=0.44","r":0.281,"g":10.87},{"m":"m=0.44","r":0.288,"g":9.8},{"m":"m=0.44","r":0.293,"g":7.5},{"m":"m=0.44","r":0.302,"g":3.9},{"m":"m=0.44","r":0.312,"g":2.12},{"m":"m=0.44","r":0.324,"g":1.18},{"m":"m=0.44","r":0.339,"g":0.72},{"m":"m=0.44","r":0.355,"g":0.52},{"m":"m=0.44","r":0.372,"g":0.47},{"m":"m=0.44","r":0.395,"g":0.62},{"m":"m=0.44","r":0.434,"g":1.18},{"m":"m=0.44","r":0.47,"g":1.8},{"m":"m=0.44","r":0.505,"g":2.28},{"m":"m=0.44","r":0.52,"g":2.2},{"m":"m=0.44","r":0.535,"g":2.25},{"m":"m=0.44","r":0.555,"g":1.85},{"m":"m=0.44","r":0.578,"g":1.3},{"m":"m=0.44","r":0.6,"g":1.12},{"m":"m=0.44","r":0.616,"g":1.08},{"m":"m=0.44","r":0.65,"g":1.09},{"m":"m=0.44","r":0.68,"g":1.15},{"m":"m=0.44","r":0.71,"g":1.14},{"m":"m=0.44","r":0.74,"g":1.24},{"m":"m=0.44","r":0.77,"g":1.17},{"m":"m=0.44","r":0.81,"g":1.17},{"m":"m=0.44","r":0.84,"g":1.05},{"m":"m=0.44","r":0.88,"g":1.02},{"m":"m=0.44","r":0.92,"g":1.04},{"m":"m=0.44","r":0.97,"g":1.05},{"m":"m=0.44","r":1.0,"g":1.0},{"m":"m=0.44","r":1.1,"g":0.99},{"m":"m=0.44","r":1.15,"g":0.98},{"m":"m=0.44","r":1.2,"g":0.99},{"m":"m=0.44","r":1.25,"g":0.97},
      {"m":"m=1","r":0.228,"g":0},{"m":"m=1","r":0.238,"g":0.05},{"m":"m=1","r":0.247,"g":1.6},{"m":"m=1","r":0.257,"g":3.9},{"m":"m=1","r":0.267,"g":7.2},{"m":"m=1","r":0.275,"g":9.3},{"m":"m=1","r":0.281,"g":9.94},{"m":"m=1","r":0.288,"g":9.3},{"m":"m=1","r":0.293,"g":7.4},{"m":"m=1","r":0.302,"g":3.9},{"m":"m=1","r":0.312,"g":2.12},{"m":"m=1","r":0.324,"g":1.18},{"m":"m=1","r":0.339,"g":0.7},{"m":"m=1","r":0.355,"g":0.47},{"m":"m=1","r":0.372,"g":0.41},{"m":"m=1","r":0.395,"g":0.52},{"m":"m=1","r":0.434,"g":1.05},{"m":"m=1","r":0.47,"g":1.62},{"m":"m=1","r":0.505,"g":2.1},{"m":"m=1","r":0.52,"g":2.12},{"m":"m=1","r":0.535,"g":2.06},{"m":"m=1","r":0.555,"g":1.7},{"m":"m=1","r":0.578,"g":1.22},{"m":"m=1","r":0.6,"g":1.07},{"m":"m=1","r":0.616,"g":1.03},{"m":"m=1","r":0.65,"g":1.03},{"m":"m=1","r":0.68,"g":1.06},{"m":"m=1","r":0.71,"g":1.12},{"m":"m=1","r":0.74,"g":1.18},{"m":"m=1","r":0.77,"g":1.16},{"m":"m=1","r":0.81,"g":1.1},{"m":"m=1","r":0.84,"g":1.05},{"m":"m=1","r":0.88,"g":1.02},{"m":"m=1","r":0.92,"g":1.0},{"m":"m=1","r":0.97,"g":1.0},{"m":"m=1","r":1.0,"g":1.0},{"m":"m=1","r":1.1,"g":0.96},{"m":"m=1","r":1.15,"g":0.97},{"m":"m=1","r":1.2,"g":0.97},{"m":"m=1","r":1.25,"g":0.98},
      {"m":"m=2","r":0.228,"g":0},{"m":"m=2","r":0.238,"g":0.05},{"m":"m=2","r":0.247,"g":1.6},{"m":"m=2","r":0.257,"g":3.9},{"m":"m=2","r":0.267,"g":7.2},{"m":"m=2","r":0.275,"g":9.0},{"m":"m=2","r":0.281,"g":9.49},{"m":"m=2","r":0.288,"g":9.0},{"m":"m=2","r":0.293,"g":7.4},{"m":"m=2","r":0.302,"g":3.9},{"m":"m=2","r":0.312,"g":2.12},{"m":"m=2","r":0.324,"g":1.18},{"m":"m=2","r":0.339,"g":0.69},{"m":"m=2","r":0.355,"g":0.44},{"m":"m=2","r":0.372,"g":0.38},{"m":"m=2","r":0.395,"g":0.47},{"m":"m=2","r":0.434,"g":0.95},{"m":"m=2","r":0.47,"g":1.45},{"m":"m=2","r":0.505,"g":1.87},{"m":"m=2","r":0.52,"g":1.89},{"m":"m=2","r":0.535,"g":1.84},{"m":"m=2","r":0.555,"g":1.55},{"m":"m=2","r":0.578,"g":1.12},{"m":"m=2","r":0.6,"g":1.0},{"m":"m=2","r":0.616,"g":0.97},{"m":"m=2","r":0.65,"g":0.97},{"m":"m=2","r":0.68,"g":1.0},{"m":"m=2","r":0.71,"g":1.07},{"m":"m=2","r":0.74,"g":1.12},{"m":"m=2","r":0.77,"g":1.1},{"m":"m=2","r":0.81,"g":1.05},{"m":"m=2","r":0.84,"g":1.02},{"m":"m=2","r":0.88,"g":1.0},{"m":"m=2","r":0.92,"g":1.0},{"m":"m=2","r":0.97,"g":1.0},{"m":"m=2","r":1.0,"g":1.0},{"m":"m=2","r":1.1,"g":0.99},{"m":"m=2","r":1.15,"g":0.98},{"m":"m=2","r":1.2,"g":0.99},{"m":"m=2","r":1.29,"g":1.0},
      {"m":"m=3","r":0.228,"g":0},{"m":"m=3","r":0.238,"g":0.05},{"m":"m=3","r":0.247,"g":1.6},{"m":"m=3","r":0.257,"g":3.9},{"m":"m=3","r":0.267,"g":7.2},{"m":"m=3","r":0.275,"g":8.9},{"m":"m=3","r":0.281,"g":9.26},{"m":"m=3","r":0.288,"g":8.9},{"m":"m=3","r":0.293,"g":7.4},{"m":"m=3","r":0.302,"g":3.9},{"m":"m=3","r":0.312,"g":2.12},{"m":"m=3","r":0.324,"g":1.18},{"m":"m=3","r":0.339,"g":0.68},{"m":"m=3","r":0.355,"g":0.42},{"m":"m=3","r":0.372,"g":0.35},{"m":"m=3","r":0.395,"g":0.42},{"m":"m=3","r":0.434,"g":0.85},{"m":"m=3","r":0.47,"g":1.33},{"m":"m=3","r":0.505,"g":1.71},{"m":"m=3","r":0.52,"g":1.73},{"m":"m=3","r":0.535,"g":1.69},{"m":"m=3","r":0.555,"g":1.43},{"m":"m=3","r":0.578,"g":1.06},{"m":"m=3","r":0.6,"g":0.95},{"m":"m=3","r":0.616,"g":0.92},{"m":"m=3","r":0.65,"g":0.93},{"m":"m=3","r":0.68,"g":0.97},{"m":"m=3","r":0.71,"g":1.03},{"m":"m=3","r":0.74,"g":1.08},{"m":"m=3","r":0.77,"g":1.07},{"m":"m=3","r":0.81,"g":1.03},{"m":"m=3","r":0.84,"g":1.01},{"m":"m=3","r":0.88,"g":1.0},{"m":"m=3","r":0.92,"g":0.99},{"m":"m=3","r":0.97,"g":1.0},{"m":"m=3","r":1.0,"g":1.0},{"m":"m=3","r":1.1,"g":1.0},{"m":"m=3","r":1.15,"g":1.0},{"m":"m=3","r":1.2,"g":1.0},{"m":"m=3","r":1.29,"g":1.0},
      {"m":"m=4","r":0.228,"g":0},{"m":"m=4","r":0.238,"g":0.05},{"m":"m=4","r":0.247,"g":1.6},{"m":"m=4","r":0.257,"g":3.9},{"m":"m=4","r":0.267,"g":7.1},{"m":"m=4","r":0.275,"g":8.8},{"m":"m=4","r":0.281,"g":9.14},{"m":"m=4","r":0.288,"g":8.8},{"m":"m=4","r":0.293,"g":7.3},{"m":"m=4","r":0.302,"g":3.9},{"m":"m=4","r":0.312,"g":2.12},{"m":"m=4","r":0.324,"g":1.18},{"m":"m=4","r":0.339,"g":0.67},{"m":"m=4","r":0.355,"g":0.4},{"m":"m=4","r":0.372,"g":0.33},{"m":"m=4","r":0.395,"g":0.39},{"m":"m=4","r":0.434,"g":0.77},{"m":"m=4","r":0.47,"g":1.22},{"m":"m=4","r":0.505,"g":1.57},{"m":"m=4","r":0.52,"g":1.59},{"m":"m=4","r":0.535,"g":1.55},{"m":"m=4","r":0.555,"g":1.33},{"m":"m=4","r":0.578,"g":1.0},{"m":"m=4","r":0.6,"g":0.91},{"m":"m=4","r":0.616,"g":0.88},{"m":"m=4","r":0.65,"g":0.9},{"m":"m=4","r":0.68,"g":0.95},{"m":"m=4","r":0.71,"g":1.01},{"m":"m=4","r":0.74,"g":1.06},{"m":"m=4","r":0.77,"g":1.05},{"m":"m=4","r":0.81,"g":1.02},{"m":"m=4","r":0.84,"g":1.0},{"m":"m=4","r":0.88,"g":1.0},{"m":"m=4","r":0.92,"g":0.99},{"m":"m=4","r":0.97,"g":1.0},{"m":"m=4","r":1.0,"g":1.0},{"m":"m=4","r":1.1,"g":1.0},{"m":"m=4","r":1.15,"g":1.0},{"m":"m=4","r":1.2,"g":1.0},{"m":"m=4","r":1.29,"g":1.0}
    ]
  },
  "config": {
    "view": {"stroke": "#000000", "strokeWidth": 1.5},
    "axis": {"domain": false, "grid": false, "tickColor": "#000000", "tickSize": -7, "tickWidth": 1.3, "labelFont": "Liberation Serif", "labelFontSize": 19, "labelColor": "#000000", "labelOverlap": false, "labelFlush": false, "titleFont": "Liberation Serif", "titleFontSize": 20, "titleFontWeight": "normal", "titleColor": "#000000"},
    "axisBottom": {"labelPadding": 7},
    "axisLeft": {"labelPadding": 12},
    "legend": {"symbolType": "M-1.25,0H1.25", "symbolSize": 196, "symbolStrokeWidth": 1.5, "labelFont": "Liberation Sans", "labelFontSize": 14, "labelFontWeight": "bold", "labelColor": "#000000", "rowPadding": 0, "labelOffset": 10.75, "padding": 0},
    "title": {"font": "Liberation Sans", "fontWeight": "bold", "color": "#000000"}
  }
}
